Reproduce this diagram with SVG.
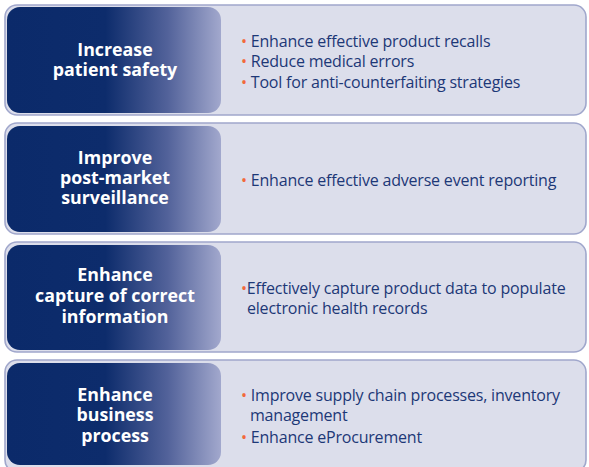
<svg xmlns="http://www.w3.org/2000/svg" width="589" height="467" viewBox="0 0 589 467">
  <defs>
    <linearGradient id="tab" x1="0" y1="0" x2="1" y2="0">
      <stop offset="0" stop-color="#0b2a6a"/>
      <stop offset="0.46" stop-color="#0d2c6c"/>
      <stop offset="0.75" stop-color="#52629a"/>
      <stop offset="1" stop-color="#a2a8cd"/>
    </linearGradient>
  </defs>
  <style>
    .panel { fill: #dcdeeb; stroke: #a0a7cc; stroke-width: 1.6; }
    .tab { fill: url(#tab); }
    .head { font-family: "Open Sans", "Noto Sans", sans-serif; font-weight: bold; font-size: 17.8px; fill: #ffffff; text-anchor: middle; }
    .item { font-family: "Open Sans", "Noto Sans", sans-serif; font-size: 16px; fill: #1d3877; letter-spacing: -0.2px; }
    .dot { fill: #f2693a; }
  </style>
  <rect width="589" height="467" fill="#ffffff"/>

  <g id="row-safety">
    <rect class="panel" x="5" y="5" width="581" height="110" rx="12"/>
    <rect class="tab" x="7" y="7" width="214" height="106" rx="13"/>
    <text class="head" x="115" y="56">Increase</text>
    <text class="head" x="115" y="76">patient safety</text>
    <text class="item" x="241" y="47"><tspan class="dot">•</tspan> Enhance effective product recalls</text>
    <text class="item" x="241" y="67"><tspan class="dot">•</tspan> Reduce medical errors</text>
    <text class="item" x="241" y="88"><tspan class="dot">•</tspan> Tool for anti-counterfaiting strategies</text>
  </g>

  <g id="row-surveillance">
    <rect class="panel" x="5" y="123" width="581" height="111" rx="12"/>
    <rect class="tab" x="7" y="126" width="214" height="106" rx="13"/>
    <text class="head" x="115" y="164">Improve</text>
    <text class="head" x="115" y="184">post-market</text>
    <text class="head" x="115" y="204">surveillance</text>
    <text class="item" x="241" y="186"><tspan class="dot">•</tspan> Enhance effective adverse event reporting</text>
  </g>

  <g id="row-information">
    <rect class="panel" x="5" y="242" width="581" height="110" rx="12"/>
    <rect class="tab" x="7" y="245" width="214" height="105" rx="13"/>
    <text class="head" x="115" y="281">Enhance</text>
    <text class="head" x="115" y="302">capture of correct</text>
    <text class="head" x="115" y="323">information</text>
    <text class="item" x="241" y="294"><tspan class="dot">•</tspan>Effectively capture product data to populate</text>
    <text class="item" x="247" y="314">electronic health records</text>
  </g>

  <g id="row-business">
    <rect class="panel" x="5" y="360" width="581" height="112" rx="12"/>
    <rect class="tab" x="7" y="363" width="214" height="102" rx="13"/>
    <text class="head" x="115" y="401">Enhance</text>
    <text class="head" x="115" y="421">business</text>
    <text class="head" x="115" y="442">process</text>
    <text class="item" x="241" y="401"><tspan class="dot">•</tspan> Improve supply chain processes, inventory</text>
    <text class="item" x="250" y="421">management</text>
    <text class="item" x="241" y="443"><tspan class="dot">•</tspan> Enhance eProcurement</text>
  </g>

  <g id="connectors"/>
</svg>
